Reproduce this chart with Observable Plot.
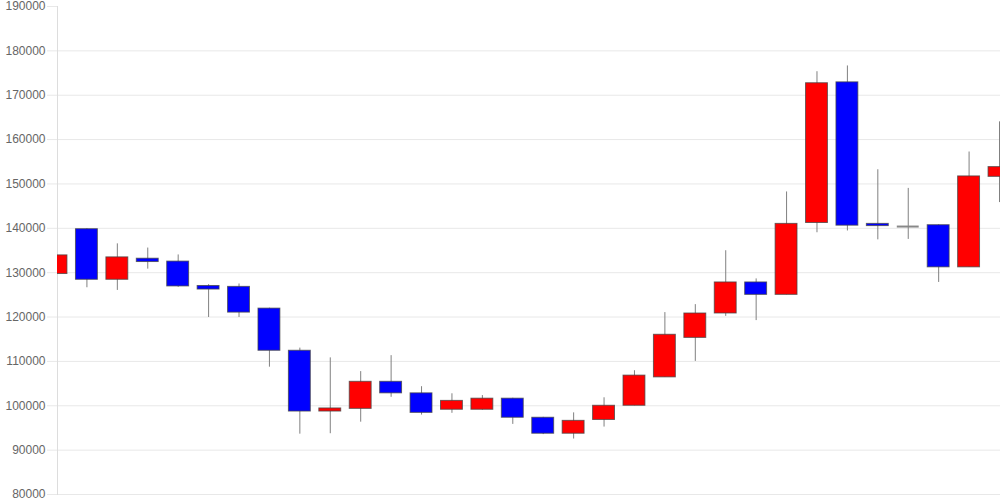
<!DOCTYPE html>
<html>
<head>
<meta charset="utf-8">
<script src="https://cdn.jsdelivr.net/npm/d3@7"></script>
<script src="https://cdn.jsdelivr.net/npm/@observablehq/plot@0.6"></script>
<style>
  html, body { margin: 0; padding: 0; background: #fff; }
  #chart svg { display: block; }
</style>
</head>
<body>
<div id="chart"></div>
<script>
const openV  = [129700,139800,128400,133150,132500,127000,126800,121900,112400, 98700, 99300,105400,102800, 99100, 99100,101600, 97300, 93700, 96800,100000,106400,115300,120800,127800,125000,141200,172900,141000,140400,140700,131200,151600];
const closeV = [133900,128400,133450,132400,126900,126200,121000,112400, 98700, 99400,105400,102800, 98400,101100,101600, 97300, 93700, 96600,100000,106800,116000,120800,127800,125000,141000,172700,140600,140500,140400,131200,151700,153800];
const highV  = [142150,139900,136500,135550,134000,127300,127450,122000,113000,110800,107700,111300,104300,102700,102300,101700, 97400, 98400,101800,107900,121000,122800,134950,128600,148200,175300,176600,153200,149000,140800,157200,164000];
const lowV   = [129500,126600,126000,130800,126700,119900,119900,108700, 93600, 93700, 96300,101900, 97900, 98300, 99000, 95800, 93500, 92500, 95200,100000,106400,110000,120150,119200,125000,139000,139400,137400,137500,127800,131200,145800];
const yTicks = [80000, 90000, 100000, 110000, 120000, 130000, 140000, 150000, 160000, 170000, 180000, 190000];

const candles = openV.map((o, i) => ({
  i, open: o, close: closeV[i], high: highV[i], low: lowV[i],
  dir: closeV[i] > o ? "up" : closeV[i] < o ? "down" : "flat"
}));
const bodies = candles.filter(d => d.dir !== "flat");
const dojis = candles.filter(d => d.dir === "flat");

const half = 0.36;

const chart = Plot.plot({
  width: 1000,
  height: 500,
  marginLeft: 57,
  marginRight: 0,
  marginTop: 6,
  marginBottom: 6,
  style: { fontFamily: "'Liberation Sans', Arial, sans-serif", background: "#fff" },
  x: { type: "linear", domain: [0, 31], range: [56, 999], axis: null },
  y: { domain: [80000, 190000], ticks: yTicks, label: null },
  color: { domain: ["up", "down"], range: ["#ff0000", "#0000ff"] },
  marks: [
    Plot.ruleY(yTicks.filter(t => t < 190000), { stroke: "#e8e8e8", strokeWidth: 1 }),
    Plot.axisY(yTicks, {
      tickSize: 10, tickPadding: 2, stroke: "#e8e8e8", fill: "#666",
      fontSize: 12, tickFormat: d => String(d), label: null
    }),
    Plot.frame({ anchor: "left", stroke: "#dddddd" }),
    Plot.ruleX(candles, { x: "i", y1: "low", y2: "high", stroke: "#808080", strokeWidth: 1, clip: true }),
    Plot.rect(bodies, {
      x1: d => d.i - half, x2: d => d.i + half,
      y1: "open", y2: "close",
      fill: "dir",
      stroke: "#444444",
      strokeOpacity: 0.75,
      strokeWidth: 1,
      clip: true
    }),
    Plot.ruleY(dojis, {
      x1: d => d.i - half, x2: d => d.i + half,
      y: "open", stroke: "#888888", strokeWidth: 2, clip: true
    })
  ]
});
document.getElementById("chart").appendChild(chart);
</script>
</body>
</html>
